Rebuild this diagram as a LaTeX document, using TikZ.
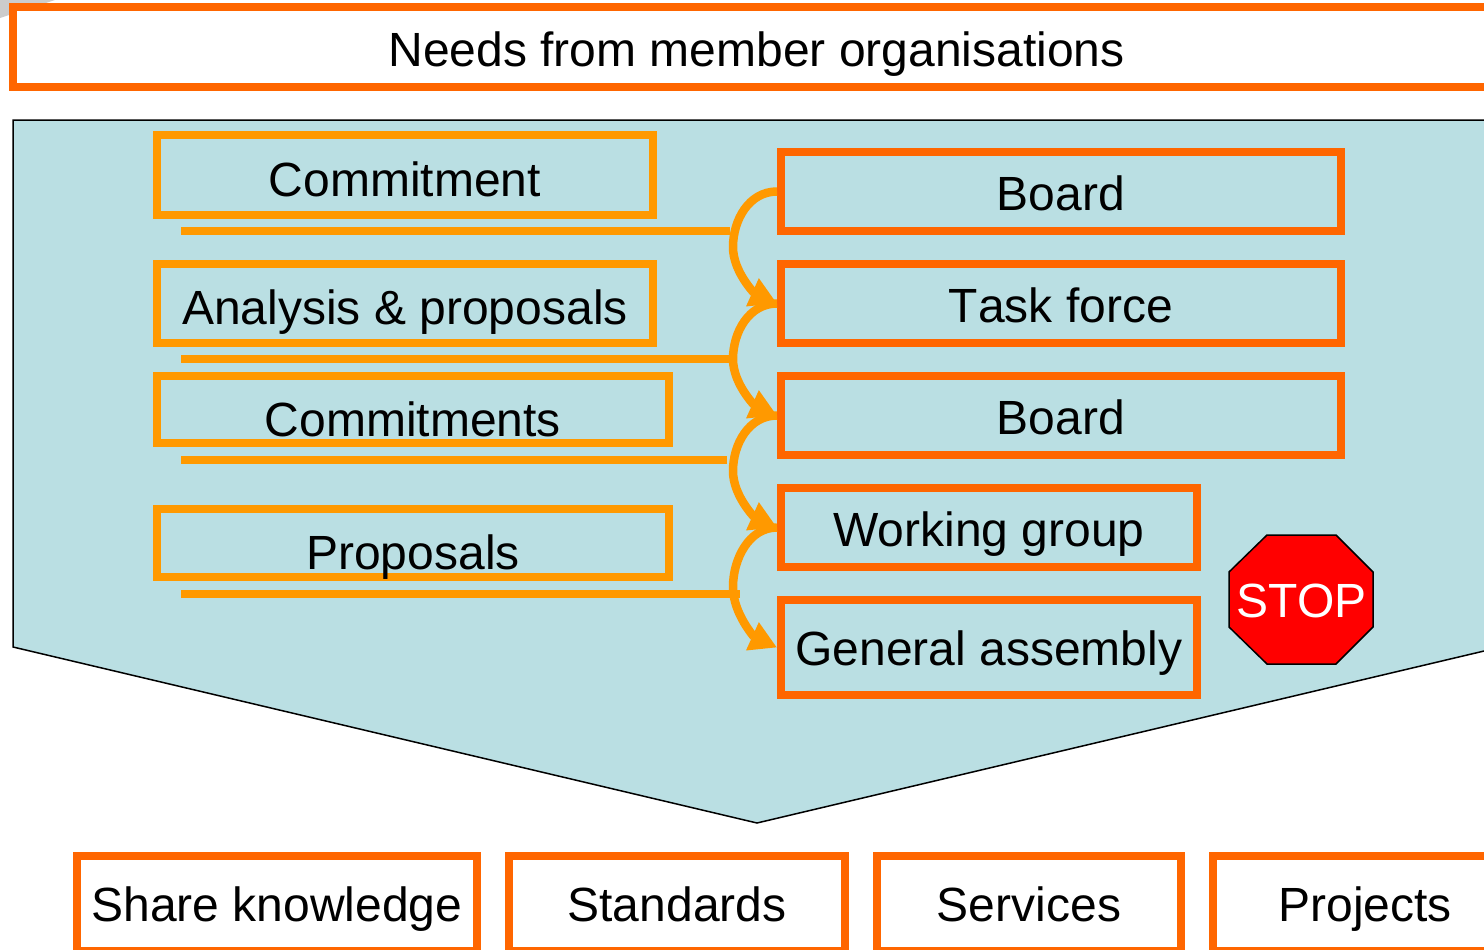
\documentclass[tikz,border=0pt]{standalone}
\usepackage{fontspec}
\setmainfont{Liberation Sans}
\usetikzlibrary{arrows.meta,calc}
\definecolor{dkor}{HTML}{FF6600}
\definecolor{ltor}{HTML}{FF9900}
\definecolor{teal}{HTML}{BADFE3}
\tikzset{
  base/.style={draw,line width=8pt,inner sep=0pt,font=\fontsize{48}{48}\selectfont,text depth=0pt,text height=38pt,align=center},
  obox/.style={base,draw=dkor},
  lbox/.style={base,draw=ltor},
  link/.style={draw=ltor,line width=8pt},
  flow/.style={draw=ltor,line width=8.5pt,-{Triangle[length=27pt,width=29pt]}},
}
\begin{document}
\begin{tikzpicture}[x=1pt,y=-1pt]
\useasboundingbox (0,0) rectangle (1484,950);
\clip (0,0) rectangle (1484,950);
\fill[white] (0,0) rectangle (1484,950);
\fill[black!20] (0,0) -- (55,0) -- (0,18) -- cycle;
\node[obox,fill=white,minimum width=1487pt,minimum height=80pt,text height=39pt] (needs) at (756.5,47) {Needs from member organisations};
\draw[fill=teal,line width=1.5pt] (13,120) -- (1501,120) -- (1501,647) -- (757,823) -- (13,647) -- cycle;
\node[lbox,minimum width=496pt,minimum height=80pt,text height=42pt] (commit) at (405,175) {Commitment};
\node[lbox,minimum width=496pt,minimum height=79pt,text height=41pt] (analysis) at (405,303.5) {Analysis \& proposals};
\node[lbox,minimum width=512pt,minimum height=67pt,text height=54pt] (commits) at (413,409.5) {Commitments};
\node[lbox,minimum width=512pt,minimum height=68pt,text height=52pt] (props) at (413,543) {Proposals};
\node[obox,minimum width=560pt,minimum height=79pt] (b1) at (1061,191.5) {Board};
\node[obox,minimum width=560pt,minimum height=79pt] (tf) at (1061,303.5) {T\kern0pt ask force};
\node[obox,minimum width=560pt,minimum height=79pt] (b2) at (1061,415.5) {Board};
\node[obox,minimum width=416pt,minimum height=79pt] (wg) at (989,527.5) {Working group};
\node[obox,minimum width=416pt,minimum height=95pt,text height=35pt] (ga) at (989,647.5) {General assembly};
\node[obox,fill=white,minimum width=400pt,minimum height=95pt,text height=35pt] (share) at (277,903.5) {Share knowledge};
\node[obox,fill=white,minimum width=336pt,minimum height=95pt,text height=35pt] (std) at (677,903.5) {Standards};
\node[obox,fill=white,minimum width=304pt,minimum height=95pt,text height=35pt] (serv) at (1029,903.5) {Services};
\node[obox,fill=white,minimum width=304pt,minimum height=95pt,text height=35pt] (proj) at (1365,903.5) {Projects};
\coordinate (l1a) at (181,231); \coordinate (l1b) at (730,231);
\coordinate (l2a) at (181,359); \coordinate (l2b) at (731,359);
\coordinate (l3a) at (181,460); \coordinate (l3b) at (727,460);
\coordinate (l4a) at (181,594); \coordinate (l4b) at (740,594);
\draw[link] (l1a) -- (l1b);
\draw[link] (l2a) -- (l2b);
\draw[link] (l3a) -- (l3b);
\draw[link] (l4a) -- (l4b);
\coordinate (m1) at (733,247);
\coordinate (m2) at (733,359);
\coordinate (m3) at (733,471);
\coordinate (m4) at (733,587);
\draw[flow] (b1.west) .. controls +(-28,0) and +(0,-27) .. (m1) .. controls +(0,25) and +(-22,-10) .. (tf.west);
\draw[flow] (tf.west) .. controls +(-28,0) and +(0,-27) .. (m2) .. controls +(0,25) and +(-22,-10) .. (b2.west);
\draw[flow] (b2.west) .. controls +(-28,0) and +(0,-27) .. (m3) .. controls +(0,25) and +(-22,-10) .. (wg.west);
\draw[flow] (wg.west) .. controls +(-28,0) and +(0,-28) .. (m4) .. controls +(0,27) and +(-22,-10) .. (ga.west);
\draw[fill=red,line width=1.5pt] (1267,535) -- (1336,535) -- (1373,572) -- (1373,627) -- (1336,664) -- (1267,664) -- (1229,627) -- (1229,572) -- cycle;
\node[text=white,inner sep=0pt,font=\fontsize{48}{48}\selectfont,text height=36pt,text depth=0pt] (stop) at (1301.5,599.5) {STOP};
\end{tikzpicture}
\end{document}
